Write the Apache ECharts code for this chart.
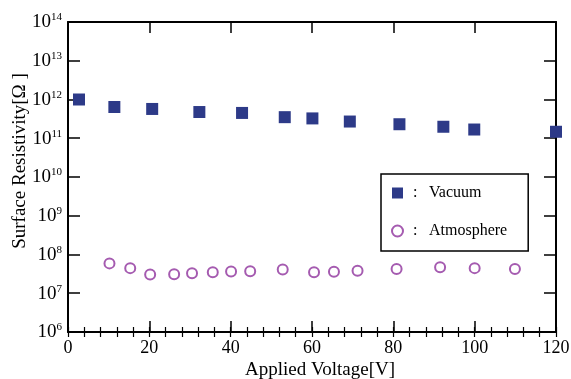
<!DOCTYPE html>
<html>
<head>
<meta charset="utf-8">
<script src="https://cdn.jsdelivr.net/npm/echarts@6/dist/echarts.min.js"></script>
<style>
html,body{margin:0;padding:0;background:#fff;}
#c{width:571px;height:379px;}
</style>
</head>
<body>
<div id="c"></div>
<script>
var vacuumX = [2.7, 11.4, 20.7, 32.3, 42.8, 53.3, 60.1, 69.3, 81.5, 92.3, 99.9, 120];
var vacuumY = [1.0e12, 6.4e11, 5.7e11, 4.75e11, 4.5e11, 3.5e11, 3.25e11, 2.7e11, 2.3e11, 1.98e11, 1.68e11, 1.47e11];
var atmX = [10.2, 15.3, 20.2, 26.1, 30.5, 35.6, 40.1, 44.8, 52.8, 60.5, 65.4, 71.2, 80.8, 91.5, 100.0, 109.9];
var atmY = [5.9e7, 4.45e7, 3.05e7, 3.1e7, 3.3e7, 3.5e7, 3.65e7, 3.7e7, 4.1e7, 3.5e7, 3.6e7, 3.8e7, 4.2e7, 4.7e7, 4.45e7, 4.2e7];
var seriesNames = ['Vacuum', 'Atmosphere'];
var xTitle = 'Applied Voltage[V]';
var yTitle = 'Surface Resistivity[\u03A9 ]';

function zip(a, b) { return a.map(function (v, i) { return [v, b[i]]; }); }

var FONT = 'Liberation Serif';
var black = '#000';

var chart = echarts.init(document.getElementById('c'), null, {renderer: 'canvas'});

var gridBox = {left: 68, right: 15, top: 22, bottom: 47, containLabel: false, outerBoundsMode: 'none'};
function gridCopy() { var g = {}; for (var k in gridBox) g[k] = gridBox[k]; return g; }

function xAxisBase(pos, showLabel) {
  return {
    type: 'value', gridIndex: 0, position: pos, min: 0, max: 120, interval: 20,
    axisLine: {show: true, onZero: false, lineStyle: {color: black, width: 2}},
    axisTick: {show: true, inside: true, length: 11, lineStyle: {color: black, width: 1.5}},
    splitLine: {show: false},
    axisLabel: {show: showLabel, color: black, fontFamily: FONT, fontSize: 18, margin: 7}
  };
}
function xMinorAxis(gi, pos) {
  var a = {
    type: 'value', gridIndex: gi, min: 0, max: 120, interval: 4,
    axisLine: {show: false},
    axisTick: {show: true, inside: true, length: 5, lineStyle: {color: black, width: 1.2}},
    splitLine: {show: false},
    axisLabel: {show: false}
  };
  if (pos) a.position = pos;
  return a;
}
function yHidden(gi) {
  return {type: 'value', gridIndex: gi, show: false, splitLine: {show: false}};
}
function yAxisBase(pos, showLabel) {
  return {
    type: 'log', logBase: 10, gridIndex: 0, position: pos, min: 1e6, max: 1e14, splitNumber: 8,
    axisLine: {show: true, onZero: false, lineStyle: {color: black, width: 2}},
    axisTick: {show: true, inside: true, length: 12, lineStyle: {color: black, width: 1.5}},
    minorTick: {show: false},
    splitLine: {show: false},
    axisLabel: {
      show: showLabel, margin: 6,
      formatter: function (v) {
        var e = Math.round(Math.log(v) / Math.LN10);
        return '{b|10}{e|' + e + '}';
      },
      rich: {
        b: {fontFamily: FONT, fontSize: 19, color: black, lineHeight: 20, verticalAlign: 'bottom'},
        e: {fontFamily: FONT, fontSize: 11, color: black, lineHeight: 20, verticalAlign: 'top'}
      }
    }
  };
}

var xa0 = xAxisBase('bottom', true);
xa0.name = xTitle;
xa0.nameLocation = 'middle';
xa0.nameGap = 29;
xa0.nameMoveOverlap = false;
xa0.nameTextStyle = {fontFamily: FONT, fontSize: 19, color: black, padding: [0, 0, 0, 16]};
var xa1 = xAxisBase('top', false);

var ya0 = yAxisBase('left', true);
ya0.name = yTitle;
ya0.nameLocation = 'middle';
ya0.nameGap = 38;
ya0.nameMoveOverlap = false;
ya0.nameTextStyle = {fontFamily: FONT, fontSize: 19, color: black, padding: [0, 0, 0, 32]};
var ya1 = yAxisBase('right', false);

var option = {
  animation: false,
  backgroundColor: '#fff',
  grid: [gridCopy(), gridCopy(), gridCopy()],
  xAxis: [xa0, xa1, xMinorAxis(1, null), xMinorAxis(2, 'top')],
  yAxis: [ya0, ya1, yHidden(1), yHidden(2)],
  legend: {
    orient: 'vertical', left: 381, top: 174,
    padding: [11, 21, 12, 10], itemGap: 22, itemWidth: 11, itemHeight: 11,
    borderColor: black, borderWidth: 1.5, backgroundColor: '#fff', borderRadius: 0,
    data: [{name: seriesNames[0], icon: 'rect'}, {name: seriesNames[1], icon: 'emptyCircle'}],
    formatter: function (n) { return '{c|:}{n|' + n + '}'; },
    textStyle: {
      rich: {
        c: {fontFamily: FONT, fontSize: 16, color: black, width: 16, padding: [0, 0, 0, 5], lineHeight: 14},
        n: {fontFamily: FONT, fontSize: 16, color: black, lineHeight: 14}
      }
    }
  },
  series: [
    {
      name: seriesNames[0], type: 'scatter', xAxisIndex: 0, yAxisIndex: 0,
      symbol: 'rect', symbolSize: 12,
      itemStyle: {color: '#2d3a88', opacity: 1},
      data: zip(vacuumX, vacuumY)
    },
    {
      name: seriesNames[1], type: 'scatter', xAxisIndex: 0, yAxisIndex: 0,
      symbol: 'emptyCircle', symbolSize: 10,
      itemStyle: {color: '#a55bb0', borderWidth: 1.5, opacity: 1},
      data: zip(atmX, atmY)
    },
    {type: 'scatter', xAxisIndex: 2, yAxisIndex: 2, silent: true, data: []},
    {type: 'scatter', xAxisIndex: 3, yAxisIndex: 3, silent: true, data: []}
  ]
};
chart.setOption(option);
</script>
</body>
</html>
